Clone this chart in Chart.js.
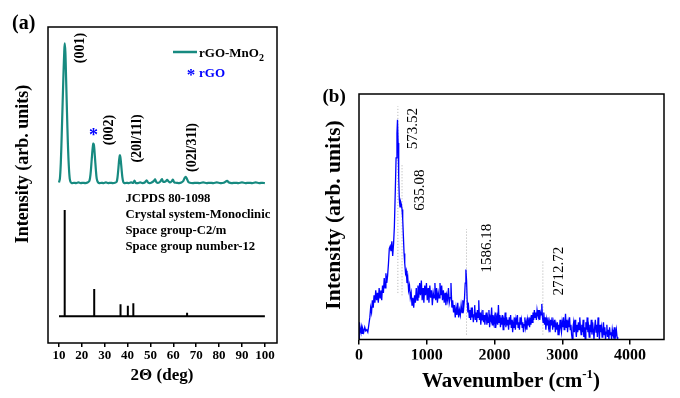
<!DOCTYPE html>
<html lang="en">
<head>
<meta charset="UTF-8" />
<title>rGO-MnO2 – XRD and Raman</title>
<script src="https://cdn.jsdelivr.net/npm/chart.js"></script>
<style>
  html, body { margin: 0; padding: 0; background: #fff; }
  #wrap { position: relative; width: 680px; height: 398px; }
  #xrd { position: absolute; left: 0; top: 0; }
  #raman { position: absolute; left: 300px; top: 0; }
</style>
</head>
<body>
<div id="wrap">
  <canvas id="xrd" width="300" height="398" style="width:300px;height:398px"></canvas>
  <canvas id="raman" width="380" height="398" style="width:380px;height:398px"></canvas>
</div>

<script>
  // ---- panel (a): XRD pattern (intensity in arbitrary plot units 0-100) ----
  const xrdTheta = [10.0, 10.4, 10.8, 11.2, 11.6, 12.0, 12.3, 12.5, 12.8, 13.1, 13.5, 13.9, 14.3, 14.7, 15.1, 15.6,
    16.5, 17.5, 18.5, 19.5, 20.5, 21.5, 22.5, 23.3, 23.8, 24.3, 24.7, 25.0, 25.3, 25.7, 26.1, 26.5, 27.0, 27.6,
    28.5, 29.5, 30.5, 31.5, 32.5, 33.5, 34.5, 35.2, 35.6, 36.0, 36.3, 36.6, 36.9, 37.3, 37.7, 38.1, 38.6,
    39.5, 40.5, 41.5, 42.5, 43.0, 43.5, 44.5, 45.5, 46.5, 47.5, 48.3, 48.9, 49.7, 50.5, 51.5, 52.0, 52.6,
    53.5, 54.4, 55.0, 55.6, 56.5, 57.3, 57.8, 58.5, 59.3, 59.8, 60.4, 61.5, 62.5, 63.5, 64.3, 64.9, 65.4,
    65.9, 66.5, 67.2, 68.5, 70, 71.5, 73, 74.5, 76, 77.5, 79, 80.5, 82, 83.5, 84.3, 85.5, 87, 88.5, 90,
    91.5, 93, 94.5, 96, 97.5, 99, 100];
  const xrdInt = [50.8, 52, 57, 66, 76, 86, 92, 94.8, 92, 84, 73, 63, 56, 52, 50.9, 50.6,
    50.7, 50.6, 50.8, 50.6, 50.7, 50.6, 50.8, 51.3, 53.5, 58, 61.5, 63.1, 62.5, 59, 55, 52, 50.9, 50.6,
    50.7, 50.6, 50.8, 50.6, 50.7, 50.6, 50.7, 51, 52.5, 55.5, 58, 59.4, 58.5, 55.5, 52.5, 51, 50.6,
    50.7, 50.6, 50.8, 50.7, 51.4, 50.7, 50.6, 50.8, 50.6, 50.8, 51.5, 50.8, 50.6, 50.8, 51.3, 51.8, 50.9,
    50.7, 51.2, 51.9, 51.0, 51.1, 51.6, 51.2, 50.8, 51.2, 51.7, 50.8, 50.7, 50.6, 50.8, 51.2, 52.2, 52.6,
    52.0, 51.0, 50.7, 50.6, 50.7, 50.6, 50.8, 50.6, 50.7, 50.6, 50.8, 50.6, 50.7, 51.3, 50.8, 50.6, 50.7, 50.6, 50.8,
    50.6, 50.7, 50.6, 50.8, 50.6, 50.7, 50.6];

  // JCPDS 80-1098 reference lines
  const stickTheta = [12.5, 25.4, 36.9, 40.1, 42.5, 66.0];
  const stickHeight = [42.1, 17.1, 12.3, 11.8, 12.6, 9.6];
  const stickBase = 8.5;
  const stickRange = [10, 100];

  const xrdTicks = [10, 20, 30, 40, 50, 60, 70, 80, 90, 100];
  const hklLabels = ['(001)', '(002)', '(20l/11l)', '(02l/31l)'];
  const jcpdsLines = ['JCPDS 80-1098', 'Crystal system-Monoclinic', 'Space group-C2/m', 'Space group number-12'];

  // ---- panel (b): Raman spectrum ----
  const ramanWn = [0, 6, 15, 25, 35, 45, 55, 70, 85, 100, 115, 130, 145, 160, 172, 185, 197, 210, 222, 235, 247, 260,
    272, 285, 297, 310, 322, 335, 347, 360, 372, 385, 397, 410, 422, 435, 447, 460, 472, 485, 497, 510, 522, 535,
    547, 560, 568, 577, 586, 595, 605, 615, 625, 635, 645, 655, 665, 675, 687, 697, 708, 720, 732, 745, 757, 770,
    782, 795, 807, 820, 832, 845, 857, 870, 882, 895, 907, 920, 932, 945, 957, 970, 982, 995, 1007, 1020, 1032,
    1045, 1057, 1070, 1082, 1095, 1107, 1120, 1132, 1145, 1157, 1170, 1182, 1195, 1207, 1220, 1232, 1245, 1257,
    1270, 1282, 1295, 1307, 1320, 1332, 1345, 1357, 1370, 1382, 1395, 1407, 1420, 1432, 1445, 1457, 1470, 1482,
    1495, 1507, 1520, 1532, 1545, 1557, 1567, 1577, 1587, 1597, 1607, 1617, 1627, 1637, 1647, 1657, 1667, 1677,
    1687, 1697, 1707, 1717, 1727, 1737, 1747, 1757, 1767, 1777, 1787, 1797, 1807, 1817, 1827, 1837, 1847, 1857,
    1867, 1877, 1887, 1897, 1907, 1917, 1927, 1937, 1947, 1957, 1967, 1977, 1987, 1997, 2007, 2017, 2027, 2037,
    2047, 2057, 2067, 2077, 2087, 2097, 2107, 2117, 2127, 2137, 2147, 2157, 2167, 2177, 2187, 2197, 2207, 2217,
    2227, 2237, 2247, 2257, 2267, 2277, 2287, 2297, 2307, 2317, 2327, 2337, 2347, 2357, 2367, 2377, 2387, 2397,
    2407, 2417, 2427, 2437, 2447, 2457, 2467, 2477, 2487, 2497, 2507, 2517, 2527, 2537, 2547, 2557, 2567, 2577,
    2587, 2597, 2607, 2617, 2627, 2637, 2647, 2657, 2667, 2677, 2687, 2697, 2707, 2717, 2727, 2737, 2747, 2757,
    2767, 2777, 2787, 2797, 2807, 2817, 2827, 2837, 2847, 2857, 2867, 2877, 2887, 2897, 2907, 2917, 2927, 2937,
    2947, 2957, 2967, 2977, 2987, 2997, 3007, 3017, 3027, 3037, 3047, 3057, 3067, 3077, 3087, 3097, 3107, 3117,
    3127, 3137, 3147, 3157, 3167, 3177, 3187, 3197, 3207, 3217, 3227, 3237, 3247, 3257, 3267, 3277, 3287, 3297,
    3307, 3317, 3327, 3337, 3347, 3357, 3367, 3377, 3387, 3397, 3407, 3417, 3427, 3437, 3447, 3457, 3467, 3477,
    3487, 3497, 3507, 3517, 3527, 3537, 3547, 3557, 3567, 3577, 3587, 3597, 3607, 3617, 3627, 3637, 3647, 3657,
    3667, 3677, 3687, 3697, 3707, 3717, 3727, 3737, 3747, 3757, 3767, 3777, 3787, 3797, 3807, 3817, 3827];
  const ramanInt = [0, 7, 4, 3, 5, 2.5, 4.5, 3, 5, 3.5, 4, 3, 6, 9, 13, 11, 16, 13, 18, 15, 20, 16,
    19, 15, 21, 17, 20, 16, 22, 19, 25, 21, 27, 23, 26, 31, 37, 38, 36, 40, 34, 39, 46, 60,
    74, 84, 89.5, 80, 66, 57, 54, 56, 55, 53, 49, 42, 35, 31, 27, 28, 23, 25, 20, 22, 17, 19,
    14, 17, 13, 18, 15, 21, 16, 22, 17, 23, 18, 24, 16, 21, 15, 22, 18, 23, 16, 21, 15,
    22, 17, 20, 14, 19, 17, 23, 16, 21, 15, 19, 17, 23, 18, 22, 16, 20, 15,
    19, 14, 18, 16, 21, 15, 17, 23, 13, 16, 11, 14, 9, 13, 10, 15, 9, 12,
    10, 14, 11, 16, 13, 17, 23, 28.5, 24, 15, 11, 13, 9, 12, 8, 13, 9, 11,
    7, 10, 14, 8, 11, 7, 12, 9, 16, 8, 11, 6, 10, 8, 12, 7, 10, 6,
    9, 11, 6, 9, 7, 12, 5, 9, 8, 13, 6, 10, 7, 9, 5, 11, 7, 9,
    6, 14, 7, 10, 5, 8, 6, 10, 4, 8, 7, 11, 5, 9, 6, 8, 4, 9,
    6, 10, 5, 8, 3, 7, 5, 9, 4, 8, 6, 10, 5, 7, 4, 9, 6, 8,
    5, 7, 3, 6, 9, 5, 7, 4, 8, 6, 9, 5, 8, 6, 10, 7, 11, 8,
    12, 9, 11, 8, 12, 10, 9, 12, 8, 11, 10, 14.5, 9, 7, 11, 6, 9, 4,
    8, 6, 9, 5, 7, 3, 8, 6, 9, 4, 7, 5, 8, 3, 6, 4, 7, 2,
    6, 4, 8, 5, 3, 7, 5, 9, 4, 6, 10.5, 5, 8, 3, 7, 5, 9, 4,
    6, 2, 0, 5, 7, 3, 8, 4, 1, 6, 3, 7, 4, 9, 5, 2, 6, 3,
    8, 1, 5, 0, 7, 4, 9, 3, 5, 1, 6, 3, 8, 2, 7, 4, 0, 5,
    8, 3, 6, 1, 9, 4, 0, 6, 3, 5, 1, 4, 7, 2, 5, 0, 3, 6,
    1, 4, 0, 5, 2, 3, 0, 4, 2, 1, 5, 0, 2, 4, 1, 0, 0];

  const peakWn = [573.52, 635.08, 1586.18, 2712.72];
  const peakTop = [95, 71, 45, 32];
  const peakBottom = [19, 18, 2, 2];
  const ramanTicks = [0, 1000, 2000, 3000, 4000];

  const serif = "'Liberation Serif', 'Times New Roman', serif";
  const teal = '#178a80';

  function vtext(ctx, txt, x, y, font, color) {
    ctx.save();
    ctx.translate(x, y);
    ctx.rotate(-Math.PI / 2);
    ctx.font = font;
    ctx.fillStyle = color;
    ctx.textAlign = 'center';
    ctx.textBaseline = 'middle';
    ctx.fillText(txt, 0, 0);
    ctx.restore();
  }

  function frame(chart) {
    const a = chart.chartArea, ctx = chart.ctx;
    ctx.save();
    ctx.strokeStyle = '#000';
    ctx.lineWidth = 1.5;
    ctx.strokeRect(a.left, a.top, a.right - a.left, a.bottom - a.top);
    ctx.restore();
  }

  // sticks: baseline with a spike at every reference line
  const stickPoints = [{ x: stickRange[0], y: stickBase }];
  stickTheta.forEach((t, i) => {
    stickPoints.push({ x: t, y: stickBase }, { x: t, y: stickHeight[i] }, { x: t, y: stickBase });
  });
  stickPoints.push({ x: stickRange[1], y: stickBase });

  const xrdText = {
    id: 'xrdText',
    afterDraw(chart) {
      frame(chart);
      const ctx = chart.ctx;
      ctx.save();
      ctx.fillStyle = '#000';
      ctx.textBaseline = 'alphabetic';
      ctx.textAlign = 'left';
      ctx.font = 'bold 20px ' + serif;
      ctx.fillText('(a)', 12, 29);

      vtext(ctx, 'Intensity (arb. units)', 23, 164, 'bold 18px ' + serif, '#000');

      ctx.textAlign = 'center';
      ctx.font = 'bold 17px ' + serif;
      ctx.fillText('2\u0398 (deg)', 162, 380);

      // legend
      ctx.strokeStyle = teal;
      ctx.lineWidth = 2.5;
      ctx.beginPath();
      ctx.moveTo(173, 52);
      ctx.lineTo(197, 52);
      ctx.stroke();
      ctx.textAlign = 'left';
      ctx.font = 'bold 13px ' + serif;
      ctx.fillText('rGO-MnO', 199, 57);
      const w = ctx.measureText('rGO-MnO').width;
      ctx.font = 'bold 10px ' + serif;
      ctx.fillText('2', 199 + w, 61);
      ctx.fillStyle = '#0000ff';
      ctx.font = 'bold 17px ' + serif;
      ctx.textAlign = 'center';
      ctx.fillText('*', 191, 80);
      ctx.textAlign = 'left';
      ctx.font = 'bold 13px ' + serif;
      ctx.fillText('rGO', 199, 77);
      // rGO marker on the curve
      ctx.font = 'bold 18px ' + serif;
      ctx.textAlign = 'center';
      ctx.fillText('*', 93.5, 141);

      // hkl labels
      const hklPos = [[80, 48], [109, 130], [137, 138.5], [192.5, 147.5]];
      hklLabels.forEach((t, i) => vtext(ctx, t, hklPos[i][0], hklPos[i][1], 'bold 14px ' + serif, '#000'));

      ctx.fillStyle = '#000';
      ctx.textAlign = 'left';
      ctx.font = 'bold 12.7px ' + serif;
      const baseY = [201.5, 217.5, 233.5, 249.5];
      jcpdsLines.forEach((t, i) => ctx.fillText(t, 125.5, baseY[i]));
      ctx.restore();
    }
  };

  const ramanText = {
    id: 'ramanText',
    afterDraw(chart) {
      frame(chart);
      const ctx = chart.ctx;
      ctx.save();
      ctx.fillStyle = '#000';
      ctx.textAlign = 'left';
      ctx.font = 'bold 19px ' + serif;
      ctx.fillText('(b)', 22.5, 102);

      vtext(ctx, 'Intensity (arb. units)', 34, 215, 'bold 21.5px ' + serif, '#000');

      // x title with superscript
      const big = 'bold 21px ' + serif, small = 'bold 13px ' + serif;
      ctx.font = big;
      const w1 = ctx.measureText('Wavenumber (cm').width;
      const w3 = ctx.measureText(')').width;
      ctx.font = small;
      const w2 = ctx.measureText('-1').width;
      let x = 211 - (w1 + w2 + w3) / 2;
      ctx.font = big;
      ctx.fillText('Wavenumber (cm', x, 387);
      ctx.font = small;
      ctx.fillText('-1', x + w1, 378);
      ctx.font = big;
      ctx.fillText(')', x + w1 + w2, 387);

      const labPos = [[113, 128.5], [120, 190], [187.5, 248], [259, 271]];
      peakWn.forEach((p, i) => vtext(ctx, p.toFixed(2), labPos[i][0], labPos[i][1], '15px ' + serif, '#000'));
      ctx.restore();
    }
  };

  const axisFont = size => ({ family: serif, size: size, weight: 'bold' });

  new Chart(document.getElementById('xrd'), {
    type: 'line',
    data: {
      datasets: [
        {
          data: xrdTheta.map((x, i) => ({ x: x, y: xrdInt[i] })),
          borderColor: teal, borderWidth: 2.2, pointRadius: 0, tension: 0.3
        },
        {
          data: stickPoints,
          borderColor: '#000', borderWidth: 2, pointRadius: 0, tension: 0
        }
      ]
    },
    options: {
      responsive: false,
      animation: false,
      layout: { padding: { left: 48, right: 23, top: 27, bottom: 35 } },
      plugins: { legend: { display: false }, tooltip: { enabled: false } },
      scales: {
        x: {
          type: 'linear', min: 5.2, max: 105.3,
          afterFit: s => { s.height = 20; },
          afterBuildTicks: s => { s.ticks = xrdTicks.map(v => ({ value: v })); },
          grid: { drawOnChartArea: false, drawTicks: true, tickLength: 4, color: '#000', lineWidth: 1.5 },
          border: { display: false },
          ticks: { color: '#000', font: axisFont(13), padding: 1, maxRotation: 0, autoSkip: false,
            callback: v => String(v) }
        },
        y: { display: false, min: 0, max: 100 }
      }
    },
    plugins: [xrdText]
  });

  new Chart(document.getElementById('raman'), {
    type: 'line',
    data: {
      datasets: [
        {
          data: ramanWn.map((x, i) => ({ x: x, y: ramanInt[i] })),
          borderColor: '#0000ff', borderWidth: 1.3, pointRadius: 0, tension: 0
        }
      ].concat(peakWn.map((p, i) => ({
        data: [{ x: p, y: peakBottom[i] }, { x: p, y: peakTop[i] }],
        borderColor: '#b0b0b0', borderWidth: 1, borderDash: [1, 2], pointRadius: 0
      })))
    },
    options: {
      responsive: false,
      animation: false,
      layout: { padding: { left: 59, right: 16, top: 94, bottom: 38.5 } },
      plugins: { legend: { display: false }, tooltip: { enabled: false } },
      scales: {
        x: {
          type: 'linear', min: 0, max: 4500,
          afterFit: s => { s.height = 20; },
          afterBuildTicks: s => { s.ticks = ramanTicks.map(v => ({ value: v })); },
          grid: { drawOnChartArea: false, drawTicks: true, tickLength: 5, color: '#000', lineWidth: 1.5 },
          border: { display: false },
          ticks: { color: '#000', font: axisFont(16), padding: 2, maxRotation: 0, autoSkip: false,
            callback: v => String(v) }
        },
        y: { display: false, min: 0, max: 100 }
      }
    },
    plugins: [ramanText]
  });
</script>
</body>
</html>
